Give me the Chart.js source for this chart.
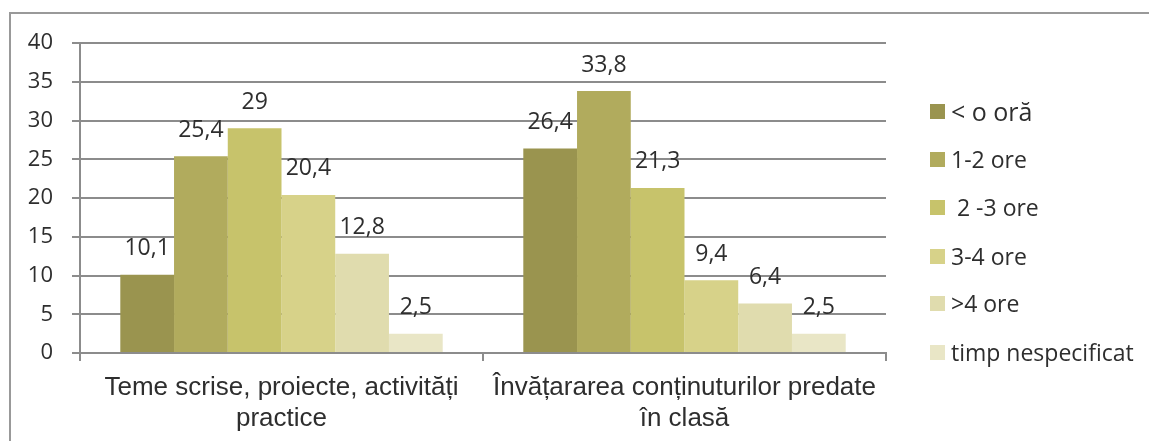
<!DOCTYPE html>
<html>
<head>
<meta charset="utf-8">
<script src="https://cdn.jsdelivr.net/npm/chart.js@4.4.1/dist/chart.umd.min.js"></script>
<style>
  body { margin: 0; background: #fff; }
  #wrap { position: relative; width: 1149px; height: 441px; overflow: hidden; }
  #frame { position: absolute; left: 9px; top: 12px; width: 1200px; height: 500px;
           border-left: 2px solid #999; border-top: 2px solid #999; }
  #chart { position: absolute; left: 0; top: 0; }
  #legend { position: absolute; left: 930px; top: 0; font-family: 'Open Sans', sans-serif;
            color: #2e2e2e; }
  .item { position: absolute; left: 0; white-space: nowrap; display: flex; align-items: center; }
  .box { width: 15px; height: 15px; margin-right: 6px; }
</style>
</head>
<body>
<div id="wrap">
  <div id="frame"></div>
  <canvas id="chart" width="1149" height="441"></canvas>
  <div id="legend"></div>
</div>
<script>
var categorii = [
	[ 'Teme scrise, proiecte, activități', 'practice' ],
	[ 'Învățararea conținuturilor predate', 'în clasă' ]
];
var serii = [ '< o oră', '1-2 ore', ' 2 -3 ore', '3-4 ore', '>4 ore', 'timp nespecificat' ];
var culori = [ '#9a944f', '#b1ab5d', '#c7c36b', '#d7d289', '#e0dcae', '#e9e6c6' ];
var valori = [
	[ 10.1, 26.4 ],
	[ 25.4, 33.8 ],
	[ 29, 21.3 ],
	[ 20.4, 9.4 ],
	[ 12.8, 6.4 ],
	[ 2.5, 2.5 ]
];
var legendaY = [ 111, 159, 207, 256, 303, 352 ];

var gri = '#8c8c8c';

var etichete = {
	id : 'etichete',
	afterDatasetsDraw : function(chart) {
		var ctx = chart.ctx;
		ctx.save();
		ctx.font = '23px "Open Sans"';
		ctx.fillStyle = '#2e2e2e';
		ctx.textAlign = 'center';
		ctx.textBaseline = 'middle';
		chart.data.datasets.forEach(function(ds, i) {
			chart.getDatasetMeta(i).data.forEach(function(bar, j) {
				var txt = String(ds.data[j]).replace('.', ',');
				ctx.fillText(txt, bar.x, bar.y - 26);
			});
		});
		ctx.restore();
	}
};

var seturi = [];
for (var i = 0; i < serii.length; i++) {
	seturi.push({
		label : serii[i],
		data : valori[i],
		backgroundColor : culori[i],
		borderWidth : 0,
		barPercentage : 1,
		categoryPercentage : 0.8
	});
}

new Chart(document.getElementById('chart').getContext('2d'), {
	type : 'bar',
	data : {
		labels : categorii,
		datasets : seturi
	},
	options : {
		responsive : false,
		animation : false,
		devicePixelRatio : 1,
		layout : {
			padding : { left : 0, top : 43, right : 263, bottom : 0 }
		},
		plugins : {
			legend : { display : false },
			tooltip : { enabled : false }
		},
		scales : {
			x : {
				grid : {
					offset : true,
					drawOnChartArea : false,
					color : gri,
					lineWidth : 2,
					tickLength : 8
				},
				border : { color : gri, width : 2 },
				ticks : {
					color : '#2e2e2e',
					padding : 11,
					maxRotation : 0,
					font : { family : 'Liberation Sans', size : 26, lineHeight : 1.2 }
				},
				afterFit : function(s) { s.height = 88; }
			},
			y : {
				min : 0,
				max : 40,
				ticks : {
					stepSize : 5,
					color : '#2e2e2e',
					padding : 19,
					font : { family : 'Open Sans', size : 22 }
				},
				grid : { color : gri, lineWidth : 2, tickLength : 8 },
				border : { color : gri, width : 2 },
				afterFit : function(s) { s.width = 80; }
			}
		}
	},
	plugins : [ etichete ]
});

var leg = document.getElementById('legend');
for (var k = 0; k < serii.length; k++) {
	var it = document.createElement('div');
	it.className = 'item';
	it.style.fontSize = (k == 0 ? 25 : 23) + 'px';
	it.style.top = (legendaY[k] - 16) + 'px';
	it.style.height = '32px';
	var b = document.createElement('div');
	b.className = 'box';
	b.style.background = culori[k];
	var t = document.createElement('span');
	t.textContent = serii[k];
	t.style.whiteSpace = 'pre';
	it.appendChild(b);
	it.appendChild(t);
	leg.appendChild(it);
}
</script>
</body>
</html>
